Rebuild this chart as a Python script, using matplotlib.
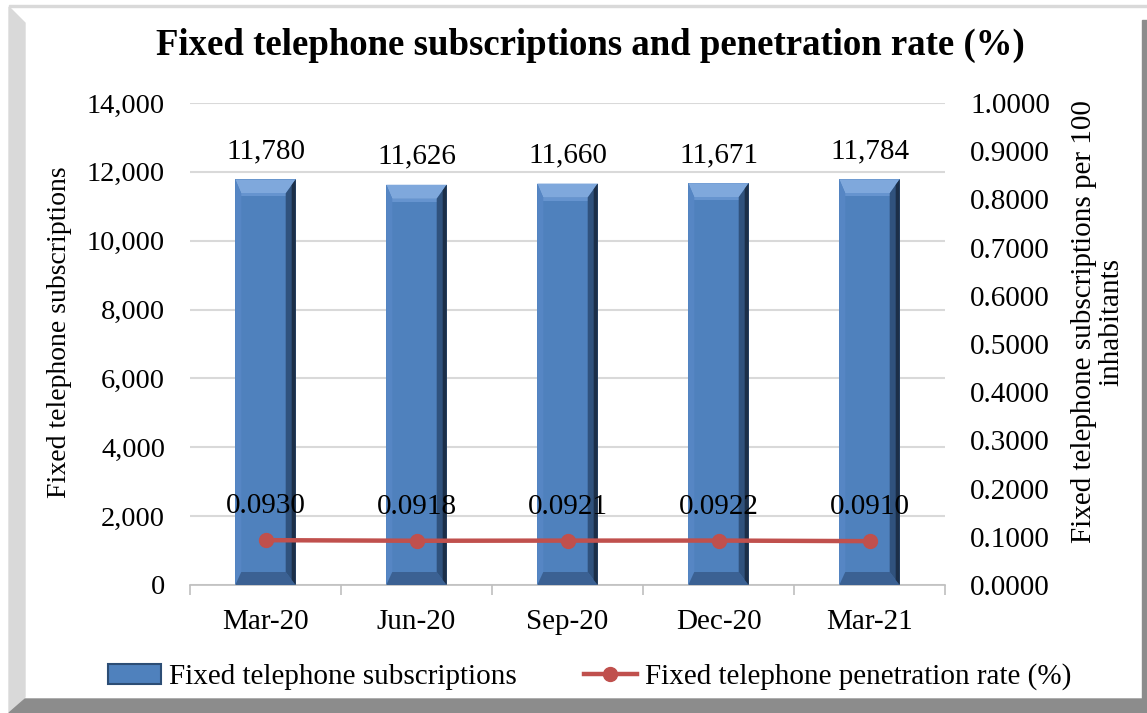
import matplotlib
matplotlib.use('Agg')
import matplotlib.pyplot as plt
from matplotlib.patches import Polygon, Patch
from matplotlib.lines import Line2D
from matplotlib.ticker import FuncFormatter, FixedLocator

plt.rcParams['font.family'] = ['Liberation Serif', 'DejaVu Serif']

quarters = ['Mar-20', 'Jun-20', 'Sep-20', 'Dec-20', 'Mar-21']
subscriptions = [11780, 11626, 11660, 11671, 11784]
penetration = [0.0930, 0.0918, 0.0921, 0.0922, 0.0910]

W, H = 1147, 713
fig = plt.figure(figsize=(W / 100, H / 100), dpi=100)


def px(x, y):
    return (x / W, 1 - y / H)


# frame with shadow, as in the excel export
frame = [
    ([(9, 5), (1147, 5), (1147, 7), (9, 7)], '#d9d9d9'),
    ([(9, 7), (25, 23), (25, 697), (9, 713)], '#d9d9d9'),
    ([(9, 713), (25, 699), (1147, 699), (1147, 713)], '#8c8c8c'),
    ([(1142, 20), (1147, 20), (1147, 700), (1142, 700)], '#8c8c8c'),
]
for pts, c in frame:
    fig.patches.append(Polygon([px(*p) for p in pts], closed=True,
                               transform=fig.transFigure, color=c, zorder=0))

ax = fig.add_axes([190 / W, (H - 585) / H, 755 / W, 482 / H])
ax2 = ax.twinx()

x = list(range(len(quarters)))
bw = 0.4
ymax = 14000
ux = 1 / 151            # category units per pixel
uy = ymax / 482         # data units per pixel

ax.bar(x, subscriptions, width=bw, color='#4f81bd', zorder=2)
for xi, v in zip(x, subscriptions):
    l, r = xi - bw / 2, xi + bw / 2
    lb, rb, tb, bb = 6 * ux, 10 * ux, 14 * uy, 13 * uy
    # top bevel
    ax.add_patch(Polygon([(l, v), (r, v), (r - rb, v - tb), (l + lb, v - tb)],
                         closed=True, color='#7fa8dc', lw=0, zorder=3))
    ax.add_patch(Polygon([(l + lb, v - tb), (r - rb, v - tb), (r - rb, v - tb - 3 * uy), (l + lb, v - tb - 3 * uy)],
                         closed=True, color='#6694cf', lw=0, zorder=3))
    # left bevel
    ax.add_patch(Polygon([(l, v), (l, 0), (l + lb, bb), (l + lb, v - tb)],
                         closed=True, color='#5686c4', lw=0, zorder=3))
    # bottom bevel
    ax.add_patch(Polygon([(l, 0), (r, 0), (r - rb, bb), (l + lb, bb)],
                         closed=True, color='#3b6193', lw=0, zorder=3))
    # right bevel, two tones
    ax.add_patch(Polygon([(r, v), (r, 0), (r - rb, bb), (r - rb, v - tb)],
                         closed=True, color='#30527d', lw=0, zorder=3))
    ax.add_patch(Polygon([(r, v), (r, 0), (r - 4 * ux, bb * 0.4), (r - 4 * ux, v - tb * 0.4)],
                         closed=True, color='#1c2f48', lw=0, zorder=3))
    ax.text(xi, v + 28 * uy, f'{v:,}', ha='center', va='center', fontsize=21, zorder=5)

ax.set_xlim(-0.5, len(quarters) - 0.5)
ax.set_ylim(0, ymax)
ax.set_yticks(range(0, ymax + 1, 2000))
ax.yaxis.set_major_formatter(FuncFormatter(lambda v, p: f'{int(v):,}'))
ax.grid(axis='y', color='#d9d9d9', lw=1.5, zorder=0)
ax.set_axisbelow(True)
ax.set_xticks(x)
ax.set_xticklabels(quarters)
ax.xaxis.set_minor_locator(FixedLocator([i + 0.5 for i in range(-1, len(quarters))]))
ax.tick_params(axis='x', which='major', length=0, pad=17, labelsize=21)
ax.tick_params(axis='x', which='minor', length=7, color='#bfbfbf', width=1.2)
ax.tick_params(axis='y', length=0, labelsize=20.5, pad=18)
for s in ['top', 'left', 'right']:
    ax.spines[s].set_visible(False)
    ax2.spines[s].set_visible(False)
ax.spines['bottom'].set_color('#bfbfbf')
ax.spines['bottom'].set_linewidth(1.2)
ax2.spines['bottom'].set_visible(False)

ax2.plot(x, penetration, color='#c0504d', lw=3.2, marker='o', markersize=10, zorder=4)
for xi, v in zip(x, penetration):
    ax2.text(xi, v + 34 / 482, f'{v:.4f}', ha='center', va='center', fontsize=21, zorder=5)
ax2.set_ylim(0, 1.0)
ax2.set_yticks([i / 10 for i in range(11)])
ax2.yaxis.set_major_formatter(FuncFormatter(lambda v, p: f'{v:.4f}'))
ax2.tick_params(axis='y', length=0, labelsize=21, pad=18)

# axis titles
fig.text(60 / W, 1 - 332 / H, 'Fixed telephone subscriptions', rotation=90,
         ha='center', va='center', fontsize=20)
fig.text(1084 / W, 1 - 322 / H, 'Fixed telephone subscriptions per 100', rotation=90,
         ha='center', va='center', fontsize=21)
fig.text(1111 / W, 1 - 322 / H, 'inhabitants', rotation=90,
         ha='center', va='center', fontsize=21)

fig.text(590 / W, 1 - 45 / H, 'Fixed telephone subscriptions and penetration rate (%)',
         ha='center', va='center', fontsize=26.5, fontweight='bold')

handles = [Patch(facecolor='#4f81bd', edgecolor='#2c4d75', lw=1.5),
           Line2D([], [], color='#c0504d', lw=3.2, marker='o', markersize=10)]
fig.legend(handles, ['Fixed telephone subscriptions', 'Fixed telephone penetration rate (%)'],
           loc='center', bbox_to_anchor=(590 / W, 1 - 677 / H), ncol=2, frameon=False,
           fontsize=21, handlelength=1.8, handletextpad=0.3, columnspacing=2.3)

fig.savefig('out.png', dpi=100, facecolor='white')
